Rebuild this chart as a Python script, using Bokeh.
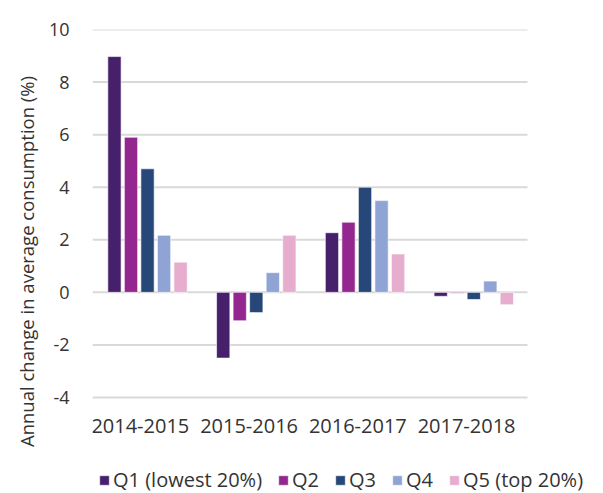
from bokeh.plotting import figure
from bokeh.models import ColumnDataSource, Legend, LegendItem, Range1d, FixedTicker, CustomJSTickFormatter
from bokeh.embed import file_html
from bokeh.resources import INLINE

periods = ["2014-2015", "2015-2016", "2016-2017", "2017-2018"]
series = ["Q1 (lowest 20%)", "Q2", "Q3", "Q4", "Q5 (top 20%)"]
q1 = [8.97, -2.5, 2.27, -0.15]
q2 = [5.9, -1.08, 2.67, -0.03]
q3 = [4.7, -0.77, 4.0, -0.27]
q4 = [2.17, 0.75, 3.49, 0.43]
q5 = [1.15, 2.17, 1.46, -0.47]
colors = ["#46206B", "#93278F", "#264778", "#8FA3D4", "#E6ADCF"]
y_ticks = [-4, -2, 0, 2, 4, 6, 8, 10]

FONT = "Open Sans"
TXT = "#333333"

# layout constants (pixels)
W, H = 603, 493
LEFT, TOP = 92, 29
PLOT_RIGHT, PLOT_BOTTOM = 527, 397          # where the chart area ends
n = len(periods)
px_per_cat = (PLOT_RIGHT - LEFT) / n
y_lo, y_hi = y_ticks[0], y_ticks[-1]
px_per_unit = (PLOT_BOTTOM - TOP) / (y_hi - y_lo)
x_end = (W - LEFT) / px_per_cat
y_start = y_hi - (H - TOP) / px_per_unit

offsets = [-0.298, -0.146, 0.006, 0.158, 0.31]
bar_w = 0.122
centers = [i + 0.5 for i in range(n)]

data = dict(period=periods, q1=q1, q2=q2, q3=q3, q4=q4, q5=q5)
cols = ["q1", "q2", "q3", "q4", "q5"]
for col, off in zip(cols, offsets):
    data["x_" + col] = [c + off for c in centers]
src = ColumnDataSource(data)

p = figure(x_range=Range1d(0, x_end), y_range=Range1d(y_start, y_hi),
           width=W, height=H, output_backend="svg", toolbar_location=None,
           min_border_left=LEFT, min_border_right=0, min_border_top=TOP, min_border_bottom=0)

# horizontal gridlines over the chart area only
p.segment(x0=0, x1=n, y0=y_ticks, y1=y_ticks, line_color="#D9D9D9", line_width=2, level="underlay")

renderers = []
for col, c in zip(cols, colors):
    r = p.vbar(x="x_" + col, top=col, bottom=0, width=bar_w, source=src,
               fill_color=c, line_color="white", line_alpha=0.6, line_width=1)
    renderers.append(r)

p.outline_line_color = None
p.xgrid.grid_line_color = None
p.ygrid.grid_line_color = None

p.yaxis.ticker = FixedTicker(ticks=y_ticks)
p.yaxis.bounds = (y_lo, y_hi)
p.yaxis.formatter = CustomJSTickFormatter(code="return tick.toString();")
p.yaxis.axis_label = "Annual change in average consumption (%)"

p.xaxis.fixed_location = y_lo
p.xaxis.ticker = FixedTicker(ticks=[c - 0.06 for c in centers])
p.xaxis.major_label_overrides = {c - 0.06: lab for c, lab in zip(centers, periods)}

for ax in [p.xaxis[0], p.yaxis[0]]:
    ax.axis_line_color = None
    ax.major_tick_line_color = None
    ax.minor_tick_line_color = None
    ax.major_label_text_font = FONT
    ax.major_label_text_color = TXT
    ax.axis_label_text_font = FONT
    ax.axis_label_text_color = TXT
    ax.axis_label_text_font_style = "normal"

p.xaxis.major_label_text_font_size = "20px"
p.xaxis.major_label_standoff = 15
p.yaxis.major_label_text_font_size = "18px"
p.yaxis.major_label_standoff = 17
p.yaxis.axis_label_text_font_size = "18.5px"
p.yaxis.axis_label_standoff = 7

legend = Legend(items=[LegendItem(label=s, renderers=[r]) for s, r in zip(series, renderers)],
                orientation="horizontal", location=(6, 0),
                label_text_font=FONT, label_text_font_size="20px", label_text_color=TXT,
                glyph_width=12, glyph_height=12, label_standoff=3, spacing=15,
                padding=0, margin=0, border_line_color=None, background_fill_alpha=0)
p.add_layout(legend, "center")

open("out.html", "w").write(file_html(p, INLINE))
